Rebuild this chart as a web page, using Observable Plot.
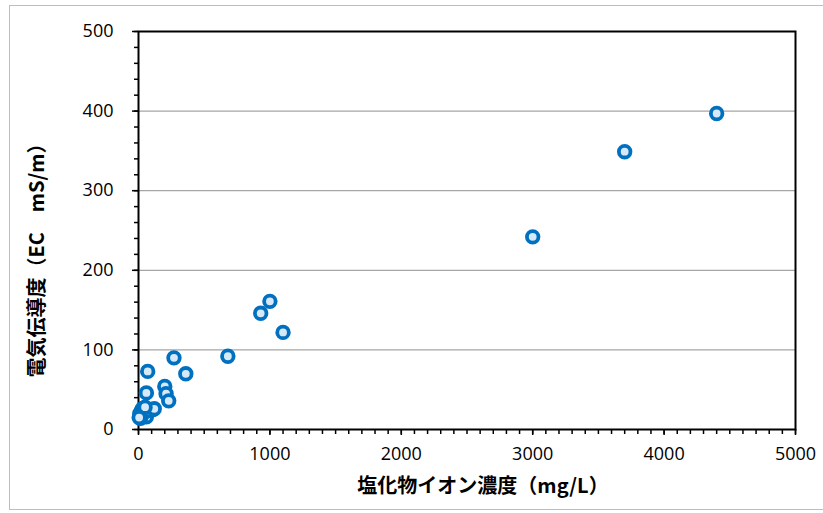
<!DOCTYPE html>
<html>
<head>
<meta charset="utf-8">
<script src="https://cdn.jsdelivr.net/npm/d3@7"></script>
<script src="https://cdn.jsdelivr.net/npm/@observablehq/plot@0.6"></script>
<style>
  html, body { margin: 0; padding: 0; background: #fff; }
  #wrap { position: relative; width: 823px; height: 513px; overflow: hidden; }
  #border { position: absolute; left: 9px; top: 5px; width: 830px; height: 505px;
            border: 1.5px solid #bdbdbd; box-sizing: border-box; pointer-events: none; }
</style>
</head>
<body>
<div id="wrap"><div id="border"></div></div>
<script>
// Chloride ion concentration (mg/L)
const chloride = [4400, 3700, 3000, 1000, 930, 1100, 680, 270, 360, 70, 60, 200, 210, 230,
                  110, 60, 10, 20, 30, 15, 40, 80, 120, 50, 5];
// Electrical conductivity (EC mS/m)
const ec = [397, 349, 242, 161, 146, 122, 92, 90, 70, 73, 46, 54, 45, 36,
            25, 16, 20, 23, 26, 14, 21, 24, 26, 28, 15];
const xTicks = [0, 1000, 2000, 3000, 4000, 5000];
const yTicks = [0, 100, 200, 300, 400, 500];
const gridValues = [100, 200, 300, 400];
const xLabel = "塩化物イオン濃度（mg/L）";
const yLabel = "電気伝導度（EC\u3000mS/m）";

const data = chloride.map((c, i) => ({c, e: ec[i]}));
const font = "'Open Sans', 'Noto Sans', sans-serif";
const jp = "'Noto Sans CJK JP', sans-serif";

const chart = Plot.plot({
  width: 823,
  height: 513,
  marginLeft: 138,
  marginRight: 28,
  marginTop: 31,
  marginBottom: 84,
  style: {fontFamily: font, fontSize: "18px", color: "#000", background: "transparent"},
  x: {domain: [0, 5000]},
  y: {domain: [0, 500]},
  marks: [
    Plot.gridY(gridValues, {stroke: "#a6a6a6", strokeOpacity: 1, strokeWidth: 1.3}),
    Plot.axisY(d3.range(0, 501, 20), {tickSize: 4, text: null, strokeWidth: 1.5, label: null}),
    Plot.axisY(yTicks, {tickSize: 6, tickPadding: 19, strokeWidth: 1.5, label: null, fontSize: 18, tickFormat: d3.format("d")}),
    Plot.axisX(d3.range(0, 5001, 100), {tickSize: 5, text: null, strokeWidth: 1.5, label: null}),
    Plot.axisX(xTicks, {tickSize: 6, tickPadding: 12, strokeWidth: 1.5, label: null, fontSize: 18, tickFormat: d3.format("d")}),
    Plot.frame({stroke: "#000", strokeWidth: 2}),
    Plot.dot(data, {x: "c", y: "e", r: 5.8, stroke: "#0070C0", strokeWidth: 3.8, fill: "#d7e9f6"}),
    Plot.text([xLabel], {frameAnchor: "bottom", dx: 16, dy: 63, fontSize: 20, fontWeight: "bold", fontFamily: jp}),
    Plot.text([yLabel], {frameAnchor: "left", textAnchor: "middle", dx: -101, dy: 25, rotate: -90, fontSize: 20, fontWeight: "bold", fontFamily: jp})
  ]
});
document.getElementById("wrap").prepend(chart);
</script>
</body>
</html>
